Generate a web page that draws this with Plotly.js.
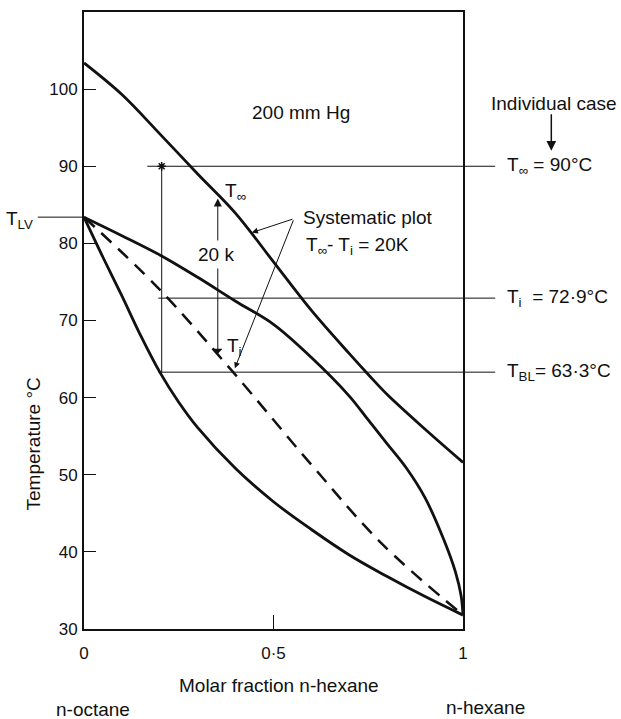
<!DOCTYPE html>
<html>
<head>
<meta charset="utf-8">
<script src="https://cdn.plot.ly/plotly-3.0.1.min.js"></script>
<style>html,body{margin:0;padding:0;background:#fff;}#chart{width:621px;height:719px;}</style>
</head>
<body>
<div id="chart"></div>
<script>
// ---- data ----
const upperX = [0, 0.1, 0.2, 0.3, 0.4, 0.5, 0.6, 0.7, 0.75, 0.8, 0.9, 1];
const upperT = [103.4, 99.3, 94.2, 89.0, 83.9, 77.6, 71.3, 65.7, 63.0, 60.4, 55.9, 51.6];

const middleX = [0, 0.1, 0.2, 0.3, 0.4, 0.5, 0.6, 0.7, 0.75, 0.8, 0.85, 0.9, 0.95, 0.98, 0.995, 1];
const middleT = [83.4, 81.0, 78.5, 75.6, 72.5, 69.5, 65.2, 60.2, 57.1, 54.0, 50.9, 47.0, 41.5, 37.4, 34.3, 31.8];

const lowerX = [0, 0.05, 0.1, 0.15, 0.2, 0.25, 0.3, 0.4, 0.5, 0.6, 0.7, 0.8, 0.9, 1];
const lowerT = [83.4, 78.2, 73.2, 68.0, 63.3, 59.4, 56.1, 50.8, 46.5, 42.9, 39.6, 36.8, 34.2, 31.8];

const dashX = [0, 0.194, 0.39, 0.6, 0.785, 1];
const dashT = [83.4, 74.3, 63.5, 51.3, 41.1, 31.8];

const caseX = [0.205];                 // individual case composition
const levelT = [90, 72.9, 63.3];       // T_inf, T_i, T_BL
const levelStartX = [0.167, 0.196, 0.196];
const levelLabels = ['T<sub>∞</sub> = 90°C', 'T<sub>i</sub>  = 72·9°C', 'T<sub>BL</sub>= 63·3°C'];
const TLV = 83.4;

const yTicks = [30, 40, 50, 60, 70, 80, 90, 100];
const xTicks = [0, 0.5, 1];
const xTickText = ['0', '0·5', '1'];

// arrow data
const deltaArrowX = 0.353, deltaTop = 86.0, deltaBottom = 65.7;
const sysStart = [0.554, 83.2];
const sysTip1 = [0.443, 81.4];
const sysTip2 = [0.398, 63.8];

// ---- drawing ----
const FONT = 'Liberation Sans, Arial, sans-serif';
const black = '#111';
const curveLine = (w) => ({color: black, width: w, shape: 'spline', smoothing: 1});

const traces = [
  {x: upperX, y: upperT, mode: 'lines', line: curveLine(2.8)},
  {x: middleX, y: middleT, mode: 'lines', line: curveLine(2.8)},
  {x: lowerX, y: lowerT, mode: 'lines', line: curveLine(2.8)},
  {x: dashX, y: dashT, mode: 'lines', line: Object.assign(curveLine(2.5), {dash: '14px,9px'})},
  {x: [caseX[0], caseX[0]], y: [levelT[0], levelT[2]], mode: 'lines', line: {color: black, width: 1}},
  {x: caseX, y: [levelT[0]], mode: 'markers', marker: {symbol: 'asterisk', size: 7, color: black, line: {color: black, width: 1.5}}, cliponaxis: false}
];

const shapes = [];
levelT.forEach((t, i) => {
  shapes.push({type: 'line', xref: 'paper', yref: 'y', x0: levelStartX[i], x1: 1.085, y0: t, y1: t,
               line: {color: black, width: 1}});
});
shapes.push({type: 'line', xref: 'paper', yref: 'y', x0: -0.122, x1: 0, y0: TLV, y1: TLV, line: {color: black, width: 1}});

const tf = (size) => ({family: FONT, size: size, color: black});
const txt = (o) => Object.assign({showarrow: false, xanchor: 'center', yanchor: 'middle', font: tf(19)}, o);
const annotations = [];
levelT.forEach((t, i) => {
  annotations.push(txt({xref: 'paper', yref: 'y', x: 1.111, y: t, text: levelLabels[i], xanchor: 'left'}));
});
annotations.push(
  txt({xref: 'paper', yref: 'y', x: -0.17, y: TLV - 0.4, text: 'T<sub>LV</sub>'}),
  txt({xref: 'x', yref: 'y', x: 0.573, y: 97.0, text: '200 mm Hg'}),
  txt({xref: 'paper', yref: 'y', x: 1.241, y: 98.2, text: 'Individual case'}),
  {xref: 'paper', yref: 'y', x: 1.233, y: 92.0, text: '', showarrow: true, ax: 0, ay: -38,
   arrowhead: 2, arrowsize: 1.3, arrowwidth: 1.5, arrowcolor: black},
  // delta T double arrow
  {xref: 'x', yref: 'y', x: deltaArrowX, y: deltaBottom, axref: 'x', ayref: 'y', ax: deltaArrowX, ay: deltaTop,
   text: '', showarrow: true, arrowside: 'end+start', arrowhead: 1, startarrowhead: 2, arrowsize: 1.6,
   startarrowsize: 1.6, arrowwidth: 1, arrowcolor: black},
  txt({xref: 'x', yref: 'y', x: 0.348, y: 78.6, text: '20 k', bgcolor: '#fff', borderpad: 3}),
  txt({xref: 'x', yref: 'y', x: 0.366, y: 86.6, text: 'T<sub>∞</sub>', xanchor: 'left'}),
  txt({xref: 'x', yref: 'y', x: 0.372, y: 66.6, text: 'T<sub>i</sub>', xanchor: 'left'}),
  // systematic plot pointers
  {xref: 'x', yref: 'y', x: sysTip1[0], y: sysTip1[1], axref: 'x', ayref: 'y', ax: sysStart[0], ay: sysStart[1],
   text: '', showarrow: true, arrowhead: 2, arrowsize: 1.2, arrowwidth: 1, arrowcolor: black},
  {xref: 'x', yref: 'y', x: sysTip2[0], y: sysTip2[1], axref: 'x', ayref: 'y', ax: sysStart[0], ay: sysStart[1],
   text: '', showarrow: true, arrowhead: 2, arrowsize: 1.2, arrowwidth: 1, arrowcolor: black},
  txt({xref: 'x', yref: 'y', x: 0.573, y: 83.3, text: 'Systematic plot', xanchor: 'left'}),
  txt({xref: 'x', yref: 'y', x: 0.58, y: 79.6, text: 'T<sub>∞</sub>- T<sub>i</sub> = 20K', xanchor: 'left'}),
  // axis titles and component names
  txt({xref: 'paper', yref: 'y', x: -0.133, y: 54, text: 'Temperature °C', textangle: -90}),
  txt({xref: 'paper', yref: 'paper', x: 0.515, y: -0.0908, text: 'Molar fraction n-hexane'}),
  txt({xref: 'paper', yref: 'paper', x: -0.08, y: -0.131, text: 'n-octane', xanchor: 'left'}),
  txt({xref: 'paper', yref: 'paper', x: 0.95, y: -0.128, text: 'n-hexane', xanchor: 'left'})
);

const layout = {
  width: 621, height: 719,
  margin: {l: 84, r: 158, t: 12, b: 90},
  paper_bgcolor: '#fff', plot_bgcolor: '#fff',
  showlegend: false,
  font: {family: FONT, color: black},
  xaxis: {range: [0, 1], tickvals: xTicks, ticktext: xTickText, ticks: 'inside', ticklen: 14, tickwidth: 1,
          tickcolor: black, showline: true, linecolor: black, linewidth: 2, mirror: true, showgrid: false,
          zeroline: false, tickfont: tf(17), ticklabelstandoff: 8},
  yaxis: {range: [30, 110], tickvals: yTicks, ticks: 'inside', ticklen: 12, tickwidth: 1, tickcolor: black,
          showline: true, linecolor: black, linewidth: 2, mirror: true, showgrid: false, zeroline: false,
          tickfont: tf(17), ticklabelstandoff: 1},
  shapes: shapes,
  annotations: annotations
};

Plotly.newPlot('chart', traces, layout, {staticPlot: true, displayModeBar: false});
</script>
</body>
</html>
